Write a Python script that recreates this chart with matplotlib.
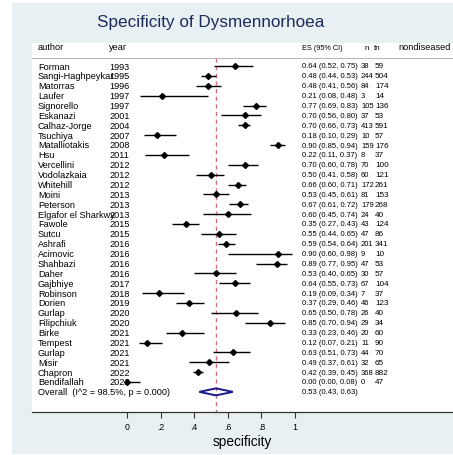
import matplotlib
matplotlib.use("Agg")
import matplotlib.pyplot as plt
from matplotlib.patches import Rectangle, Polygon

plt.rcParams['font.family'] = ['Liberation Sans', 'DejaVu Sans']

authors = ["Forman", "Sangi-Haghpeykar", "Matorras", "Laufer", "Signorello", "Eskanazi",
           "Calhaz-Jorge", "Tsuchiya", "Matalliotakis", "Hsu", "Vercellini", "Vodolazkaia",
           "Whitehill", "Moini", "Peterson", "Elgafor el Sharkwy", "Fawole", "Sutcu",
           "Ashrafi", "Acimovic", "Shahbazi", "Daher", "Gajbhiye", "Robinson", "Dorien",
           "Gurlap", "Filipchiuk", "Birke", "Tempest", "Gurlap", "Misir", "Chapron",
           "Bendifallah"]
years = [1993, 1995, 1996, 1997, 1997, 2001, 2004, 2007, 2008, 2011, 2012, 2012, 2012,
         2013, 2013, 2013, 2015, 2015, 2016, 2016, 2016, 2016, 2017, 2018, 2019, 2020,
         2020, 2021, 2021, 2021, 2021, 2022, 2022]
es = [0.64, 0.48, 0.48, 0.21, 0.77, 0.70, 0.70, 0.18, 0.90, 0.22, 0.70, 0.50, 0.66,
      0.53, 0.67, 0.60, 0.35, 0.55, 0.59, 0.90, 0.89, 0.53, 0.64, 0.19, 0.37, 0.65,
      0.85, 0.33, 0.12, 0.63, 0.49, 0.42, 0.00]
ci_low = [0.52, 0.44, 0.41, 0.08, 0.69, 0.56, 0.66, 0.10, 0.85, 0.11, 0.60, 0.41, 0.60,
          0.45, 0.61, 0.45, 0.27, 0.44, 0.54, 0.60, 0.77, 0.40, 0.55, 0.09, 0.29, 0.50,
          0.70, 0.23, 0.07, 0.51, 0.37, 0.39, 0.00]
ci_high = [0.75, 0.53, 0.56, 0.48, 0.83, 0.80, 0.73, 0.29, 0.94, 0.37, 0.78, 0.58, 0.71,
           0.61, 0.72, 0.74, 0.43, 0.65, 0.64, 0.98, 0.95, 0.65, 0.73, 0.34, 0.46, 0.78,
           0.94, 0.46, 0.21, 0.73, 0.61, 0.45, 0.08]
tn = [38, 244, 84, 3, 105, 37, 413, 10, 159, 8, 70, 60, 172, 81, 179, 24, 43, 47, 201,
      9, 47, 30, 67, 7, 46, 26, 29, 20, 11, 44, 32, 368, 0]
nondiseased = [59, 504, 174, 14, 136, 53, 591, 57, 176, 37, 100, 121, 261, 153, 268, 40,
               124, 86, 341, 10, 53, 57, 104, 37, 123, 40, 34, 60, 90, 70, 65, 882, 47]
overall_es, overall_low, overall_high = 0.53, 0.43, 0.63
overall_label = "Overall  (I^2 = 98.5%, p = 0.000)"
x_ticks = [0, 0.2, 0.4, 0.6, 0.8, 1.0]
x_tick_labels = ["0", ".2", ".4", ".6", ".8", "1"]

W, H = 453, 456
fig = plt.figure(figsize=(W / 100, H / 100), dpi=100)
fig.patch.set_facecolor("white")

# light graph-region background
fig.add_artist(Rectangle((12 / W, 1 - 455 / H), (W - 12) / W, (455 - 4) / H,
                         transform=fig.transFigure, facecolor="#e8f0f3",
                         edgecolor="none", zorder=0))

fig.text(211 / W, 1 - 23 / H, "Specificity of Dysmennorhoea", ha="center", va="center",
         fontsize=12.3, color="#1c2b5c")

# plot region in pixels: x 32..453, y 44..413
ax_left, ax_right, ax_top, ax_bottom = 32, 453, 44, 413
ax = fig.add_axes([ax_left / W, 1 - ax_bottom / H, (ax_right - ax_left) / W,
                   (ax_bottom - ax_top) / H])
ax.set_facecolor("white")

x0_px, x1_px = 127, 295  # pixel position of 0 and 1
ppu = x1_px - x0_px
ax.set_xlim((ax_left - x0_px) / ppu, (ax_right - x0_px) / ppu)

row0_px, row_step = 67, 9.875
ax.set_ylim((ax_bottom - row0_px) / row_step, (ax_top - row0_px) / row_step)


def px_x(p):
    return (p - x0_px) / ppu


n = len(authors)
rows = list(range(n))
fs = 6.6
fs_es = 5.5
fs_tn = 5.5
fs_nd = 5.9

header_row = (48 - row0_px) / row_step
line_row = (58.5 - row0_px) / row_step

# column headers
ax.text(px_x(38), header_row, "author", fontsize=fs, va="center", ha="left")
ax.text(px_x(109), header_row, "year", fontsize=fs, va="center", ha="left")
ax.text(px_x(302), header_row, "ES (95% CI)", fontsize=5.3, va="center", ha="left")
ax.text(px_x(365), header_row, "n", fontsize=5.8, va="center", ha="left")
ax.text(px_x(374), header_row, "tn", fontsize=5.8, va="center", ha="left")
ax.text(px_x(398), header_row, "nondiseased", fontsize=fs, va="center", ha="left")
ax.axhline(line_row, color="#b8b8b8", lw=0.8)

# reference line at the pooled estimate
ax.plot([overall_es, overall_es], [line_row, (ax_bottom - row0_px) / row_step],
        color="#d0707e", lw=1.0, dashes=(3, 2.5), zorder=1)

for i in rows:
    ax.plot([ci_low[i], ci_high[i]], [i, i], color="black", lw=1.0, zorder=3,
            solid_capstyle="butt")
    ax.plot(es[i], i, marker="D", markersize=3.0, color="black", zorder=4)
    ax.text(px_x(38), i, authors[i], fontsize=fs, va="center", ha="left")
    ax.text(px_x(109), i, str(years[i]), fontsize=fs, va="center", ha="left")
    ax.text(px_x(302), i, f"{es[i]:.2f} ({ci_low[i]:.2f}, {ci_high[i]:.2f})",
            fontsize=fs_es, va="center", ha="left")
    ax.text(px_x(361), i, str(tn[i]), fontsize=fs_tn, va="center", ha="left")
    ax.text(px_x(375), i, str(nondiseased[i]), fontsize=fs_nd, va="center", ha="left")

# pooled estimate diamond
ov = n
half_h = 3.5 / row_step
ax.add_patch(Polygon([[overall_low, ov], [overall_es, ov - half_h],
                      [overall_high, ov], [overall_es, ov + half_h]],
                     closed=True, fill=False, edgecolor="#1a1a8a", lw=1.4, zorder=4))
ax.text(px_x(38), ov, overall_label, fontsize=fs, va="center", ha="left")
ax.text(px_x(302), ov, f"{overall_es:.2f} ({overall_low:.2f}, {overall_high:.2f})",
        fontsize=fs_es, va="center", ha="left")

for side in ["top", "right", "left"]:
    ax.spines[side].set_visible(False)
ax.spines["bottom"].set_color("#333333")
ax.spines["bottom"].set_linewidth(0.9)
ax.set_yticks([])
ax.set_xticks(x_ticks)
ax.set_xticklabels(x_tick_labels, fontsize=6.3)
ax.tick_params(axis="x", length=4.5, width=0.8, color="#333333", pad=3)
ax.set_xlabel("specificity", fontsize=9.8, labelpad=2)

fig.savefig("out.png", dpi=100)
